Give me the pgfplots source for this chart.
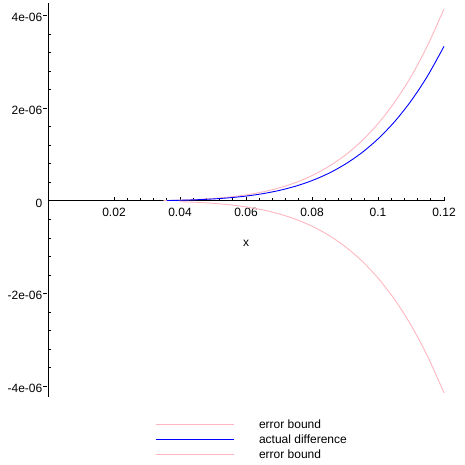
\documentclass[border=0pt]{standalone}
\usepackage{fontspec}
\setmainfont{Liberation Sans}
\usepackage{pgfplots}
\pgfplotsset{compat=1.18}
\definecolor{bndpink}{RGB}{255,182,193}
\newcommand{\mfont}{\fontsize{12bp}{14bp}\selectfont}

% error bound: x^5/6, actual difference: tan(x) - x - x^3/3
\pgfplotstableread{
x      y
0.035  8.75e-9
0.040  1.707e-8
0.045  3.075e-8
0.050  5.208e-8
0.055  8.388e-8
0.060  1.296e-7
0.065  1.9338e-7
0.070  2.8012e-7
0.075  3.9551e-7
0.080  5.4613e-7
0.085  7.3951e-7
0.090  9.8415e-7
0.095  1.28964e-6
0.100  1.66667e-6
0.105  2.12714e-6
0.110  2.68418e-6
0.115  3.35226e-6
0.120  4.14720e-6
}\upperbound

\pgfplotstableread{
x      y
0.040  -1.707e-8
0.045  -3.075e-8
0.050  -5.208e-8
0.055  -8.388e-8
0.060  -1.296e-7
0.065  -1.9338e-7
0.070  -2.8012e-7
0.075  -3.9551e-7
0.080  -5.4613e-7
0.085  -7.3951e-7
0.090  -9.8415e-7
0.095  -1.28964e-6
0.100  -1.66667e-6
0.105  -2.12714e-6
0.110  -2.68418e-6
0.115  -3.35226e-6
0.120  -4.14720e-6
}\lowerbound

\pgfplotstableread{
x      y
0.036  7.77e-9
0.040  1.3662e-8
0.045  2.4624e-8
0.050  4.1709e-8
0.055  6.7187e-8
0.060  1.0383e-7
0.065  1.5497e-7
0.070  2.2454e-7
0.075  3.1713e-7
0.080  4.3804e-7
0.085  5.9334e-7
0.090  7.8990e-7
0.095  1.03548e-6
0.100  1.33873e-6
0.105  1.70930e-6
0.110  2.15786e-6
0.115  2.69617e-6
0.120  3.3372e-6
}\actualdiff

\begin{document}
\begin{tikzpicture}
\begin{axis}[
  name=ax,
  scale only axis,
  width=396bp, height=394bp,
  axis lines=middle,
  xmin=0, xmax=0.12,
  ymin=-4.235e-6, ymax=4.274e-6,
  scaled x ticks=false, scaled y ticks=false,
  xtick={0.02,0.04,0.06,0.08,0.1,0.12},
  xticklabels={0.02,0.04,0.06,0.08,0.1,0.12},
  ytick={-4e-6,-2e-6,0,2e-6,4e-6},
  yticklabels={-4e-06,-2e-06,0,2e-06,4e-06},
  minor x tick num=4, minor y tick num=4,
  tick align=inside,
  major tick length=4bp, minor tick length=3bp,
  major y tick style={xshift=-5bp},
  tick style={black, line width=0.8bp},
  axis line style={black, line width=0.8bp, -},
  xticklabel style={font=\mfont, anchor=north, inner sep=0pt, yshift=-7.5bp},
  yticklabel style={font=\mfont, anchor=east, inner sep=0pt, xshift=-5.5bp, yshift=-2bp},
  xlabel={x},
  xlabel style={font=\mfont, at={(axis description cs:0.5,0.391)}, anchor=center},
  legend style={draw=none, fill=none, at={(0.2702,-0.0584)}, anchor=north west,
    inner sep=0pt, outer sep=0pt, row sep=3bp, column sep=25bp, font=\mfont,
    nodes={inner sep=0pt, text height=9bp, text depth=3bp}},
  legend cell align=left,
  legend image code/.code={\draw[#1, line width=1bp] (0bp,1.5bp) -- (78bp,1.5bp);},
  clip=false,
]
\addplot[bndpink, line width=0.9bp, smooth] table[x=x, y=y] {\upperbound};
\addlegendentry{error bound}
\addplot[blue, line width=0.9bp, smooth] table[x=x, y=y] {\actualdiff};
\addlegendentry{actual difference}
\addplot[bndpink, line width=0.9bp, smooth] table[x=x, y=y] {\lowerbound};
\addlegendentry{error bound}
\node[font=\mfont, anchor=east, inner sep=0pt, xshift=-5.5bp, yshift=-2.5bp] at (axis cs:0,0) {0};
\end{axis}
\path ([shift={(-48bp,-68bp)}]ax.south west) rectangle ([shift={(21bp,3bp)}]ax.north east);
\end{tikzpicture}
\end{document}
